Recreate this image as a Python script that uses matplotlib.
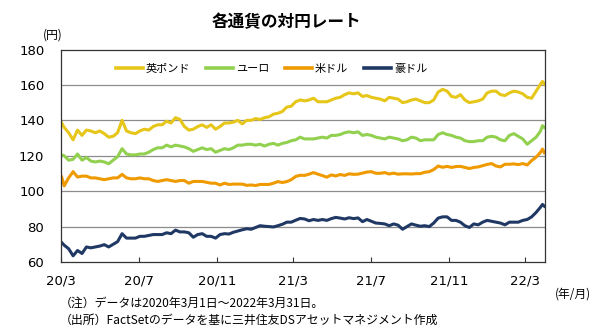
import numpy as np
import pandas as pd
import matplotlib
matplotlib.use('Agg')
import matplotlib.pyplot as plt

plt.rcParams['font.family'] = ['DejaVu Sans', 'Noto Sans CJK JP']
JP = ['Noto Sans CJK JP', 'DejaVu Sans']

# 日付: 2020/3/2, 毎週金曜, 2022/3/28, 2022/3/31
dates = ([pd.Timestamp('2020-03-02')]
         + list(pd.date_range('2020-03-06', '2022-03-25', freq='W-FRI'))
         + [pd.Timestamp('2022-03-28'), pd.Timestamp('2022-03-31')])

gbp = [
    138.5,                               # 2020-03-02
    136.0, 133.0, 129.0, 134.5,          # 2020 Mar
    131.5, 134.5, 134.0, 133.0,          # Apr
    134.0, 132.5, 130.5, 131.0, 133.0,   # May
    140.0, 134.0, 133.0, 132.5,          # Jun
    134.0, 135.0, 134.5, 136.5, 137.5,   # Jul
    137.5, 139.5, 138.5, 141.5,          # Aug
    140.5, 136.5, 134.5, 135.0,          # Sep
    136.5, 137.5, 136.0, 137.5, 135.0,   # Oct
    136.5, 138.5, 138.5, 139.0,          # Nov
    140.0, 138.0, 140.0, 140.0,          # Dec
    141.0, 140.5, 141.5, 142.0, 143.5,   # 2021 Jan
    144.0, 145.0, 147.5, 148.0,          # Feb
    150.5, 151.5, 151.0, 151.5,          # Mar
    152.5, 150.5, 150.5, 150.5, 151.5,   # Apr
    152.5, 153.0, 154.5, 155.5,          # May
    155.0, 155.5, 153.5, 154.0,          # Jun
    153.0, 152.5, 152.0, 151.0, 153.0,   # Jul
    152.5, 152.0, 150.0, 150.5,          # Aug
    151.5, 152.0, 151.0, 150.0,          # Sep
    150.0, 151.5, 156.0, 157.5, 156.5,   # Oct
    153.5, 153.0, 154.5, 151.5,          # Nov
    150.0, 150.5, 151.0, 152.0, 155.5,   # Dec
    156.5, 156.5, 154.5, 154.0,          # 2022 Jan
    155.5, 156.5, 156.0, 155.0,          # Feb
    153.0, 152.5, 156.5, 160.5,          # Mar
    162.0, 160.5,
]

eur = [
    120.5,
    120.0, 117.5, 118.0, 121.0,
    117.5, 119.0, 117.0, 116.5,
    117.0, 116.5, 115.5, 117.5, 119.5,
    124.0, 121.0, 120.5, 120.5,
    121.0, 121.0, 122.0, 123.5, 124.5,
    124.5, 126.0, 125.0, 126.0,
    125.5, 125.0, 124.0, 122.5,
    123.5, 124.5, 123.5, 124.0, 122.0,
    123.0, 124.0, 123.5, 124.5,
    126.0, 126.0, 126.5, 126.5,
    126.0, 126.5, 125.5, 126.5, 127.0,   # 2021 Jan
    126.0, 127.0, 127.5, 128.5,
    129.0, 130.5, 129.5, 129.5,
    129.5, 130.0, 130.5, 130.0, 131.5,
    131.5, 132.0, 133.0, 133.5,
    133.0, 133.5, 131.5, 132.0,
    131.5, 130.5, 130.0, 129.5, 130.5,
    130.0, 129.5, 128.5, 129.0,
    130.5, 130.0, 128.5, 129.0,
    129.0, 129.0, 132.0, 133.0, 132.0,
    131.5, 130.5, 130.0, 128.5,
    128.0, 128.0, 128.5, 128.5, 130.5,
    131.0, 130.5, 129.0, 128.5,          # 2022 Jan
    131.5, 132.5, 131.0, 129.5,
    126.5, 128.5, 130.5, 134.0,
    137.0, 136.0,
]

usd = [
    108.0,
    103.0, 107.5, 111.0, 108.0,
    108.5, 108.5, 107.5, 107.5,
    107.0, 106.5, 107.0, 107.5, 107.5,
    109.5, 107.5, 107.0, 107.0,
    107.5, 107.0, 107.0, 106.0, 105.5,
    106.0, 106.5, 106.0, 105.5,
    106.0, 106.0, 104.5, 105.5,
    105.5, 105.5, 105.0, 104.5, 104.5,
    103.5, 104.5, 103.8, 104.0,
    104.0, 104.0, 103.3, 103.5,
    103.2, 103.8, 103.8, 103.8, 104.5,   # 2021 Jan
    105.4, 104.9, 105.4, 106.5,
    108.3, 109.0, 108.9, 109.6,
    110.5, 109.6, 108.8, 107.9, 109.2,
    108.6, 109.4, 108.9, 109.8,
    109.5, 109.6, 110.2, 110.8,
    111.0, 110.1, 110.1, 110.5, 109.7,
    110.2, 109.6, 109.8, 109.8,
    109.7, 109.9, 109.9, 110.7,
    111.0, 112.2, 114.2, 113.5, 114.0,
    113.4, 113.9, 114.0, 113.4,
    112.8, 113.4, 113.7, 114.4, 115.1,
    115.6, 114.2, 113.7, 115.2,          # 2022 Jan
    115.2, 115.4, 115.0, 115.6,
    114.8, 117.3, 119.2, 122.0,
    123.8, 121.7,
]

aud = [
    71.0,
    69.5, 67.5, 63.5, 66.5,
    64.8, 68.5, 68.0, 68.5,
    69.0, 69.8, 68.5, 70.0, 71.5,
    76.0, 73.5, 73.5, 73.5,
    74.5, 74.5, 75.0, 75.5, 75.5,
    75.5, 76.5, 76.0, 78.0,
    77.0, 77.0, 76.5, 74.0,
    75.5, 76.0, 74.5, 74.5, 73.5,
    75.5, 76.0, 75.8, 76.8,
    77.5, 78.2, 78.8, 78.5,
    79.5, 80.5, 80.2, 80.0, 79.8,        # 2021 Jan
    80.5, 81.3, 82.5, 82.5,
    83.6, 84.6, 84.3, 83.3,
    84.0, 83.5, 84.0, 83.5, 84.5,
    85.2, 84.8, 84.3, 85.0,
    84.5, 84.9, 82.8, 84.0,
    83.0, 82.0, 81.8, 81.5, 80.5,
    81.5, 80.8, 78.5, 80.0,
    81.5, 80.8, 80.2, 80.5,
    80.0, 82.0, 84.8, 85.5, 85.5,
    83.5, 83.5, 82.5, 80.5,
    79.5, 81.5, 81.0, 82.5, 83.5,
    83.0, 82.5, 82.0, 81.0,              # 2022 Jan
    82.5, 82.5, 82.5, 83.5,
    84.0, 85.5, 88.0, 91.0,
    92.5, 91.5,
]

names = ['英ポンド', 'ユーロ', '米ドル', '豪ドル']
colors = ['#E6C619', '#92D050', '#EE9A00', '#1F3864']
tick_dates = ['2020-03-01', '2020-07-01', '2020-11-01', '2021-03-01',
              '2021-07-01', '2021-11-01', '2022-03-01']
tick_labels = ['20/3', '20/7', '20/11', '21/3', '21/7', '21/11', '22/3']

fig = plt.figure(figsize=(6.15, 3.33), dpi=100)
ax = fig.add_axes([0.0992, 0.2132, 0.7870, 0.6381])

for vals, name, c in zip([gbp, eur, usd, aud], names, colors):
    ax.plot(dates, vals, color=c, lw=2.2, label=name, solid_joinstyle='round')

ax.set_ylim(60, 180)
ax.set_yticks(range(60, 181, 20))
ax.set_xlim(pd.Timestamp('2020-03-01'), pd.Timestamp('2022-04-01'))
ax.set_xticks(pd.to_datetime(tick_dates))
ax.set_xticklabels(tick_labels)

for y in range(80, 180, 20):
    ax.axhline(y, color='#8C8C8C', lw=0.9, zorder=0)

for s in ax.spines.values():
    s.set_color('#333333')
    s.set_linewidth(0.9)

ax.tick_params(axis='x', direction='in', length=3.6, width=0.8, color='#333333',
               labelsize=9.5, pad=9)
ax.tick_params(axis='y', length=0, labelsize=9.5, pad=12)

leg = ax.legend(loc='center left', bbox_to_anchor=(0.1136, 0.908), ncol=4,
                frameon=False, borderpad=0, borderaxespad=0,
                handlelength=2.4, handletextpad=0.3, columnspacing=1.4,
                prop={'family': JP, 'size': 8})
for h in leg.get_lines():
    h.set_linewidth(2.6)

fig.text(286 / 615, 1 - 22 / 333, '各通貨の対円レート', ha='center', va='center',
         fontsize=12, fontweight='bold', family=JP)
fig.text(53 / 615, 1 - 35 / 333, '(円)', ha='center', va='center',
         fontsize=8.5, family=JP)
fig.text(573 / 615, 1 - 294 / 333, '(年/月)', ha='center', va='center',
         fontsize=8.5, family=JP)
fig.text(60 / 615, 1 - 303 / 333, '（注）データは2020年3月1日～2022年3月31日。',
         ha='left', va='center', fontsize=8.6, family=JP)
fig.text(60 / 615, 1 - 320 / 333, '（出所）FactSetのデータを基に三井住友DSアセットマネジメント作成',
         ha='left', va='center', fontsize=8.6, family=JP)

fig.savefig('out.png', dpi=100)
